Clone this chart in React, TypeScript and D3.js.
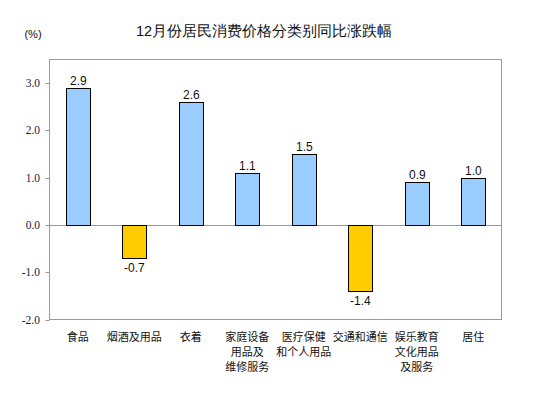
import { FC } from 'react'
import * as d3 from 'd3'

const categories = [
  ['食品'],
  ['烟酒及用品'],
  ['衣着'],
  ['家庭设备', '用品及', '维修服务'],
  ['医疗保健', '和个人用品'],
  ['交通和通信'],
  ['娱乐教育', '文化用品', '及服务'],
  ['居住'],
]
const values = [2.9, -0.7, 2.6, 1.1, 1.5, -1.4, 0.9, 1.0]
const yTicks = [3.0, 2.0, 1.0, 0.0, -1.0, -2.0]

// hyphen instead of unicode minus, like the source chart
const fmt = (v: number) => d3.format('.1f')(v).replace('−', '-')

const App: FC = () => {
  const width = 553
  const height = 398
  const left = 49.5
  const right = 501.5
  const top = 59.5
  const bottom = 319.5

  const x = d3.scaleBand<number>()
    .domain(d3.range(values.length))
    .range([left, right])
    .paddingInner(0.58)
    .paddingOuter(0.29)
  const y = d3.scaleLinear().domain([-2, 3.5]).range([bottom, top])
  const zero = Math.round(y(0)) + 0.5

  const sans = '"Liberation Sans", Arial, sans-serif'

  return (
    <svg width={width} height={height} style={{ position: 'absolute', left: 0, top: 0 }}>
      <rect width={width} height={height} fill="#fff" />
      <text x={264} y={36} textAnchor="middle" fontFamily={sans} fontSize={14.5} fill="#111">
        12月份居民消费价格分类别同比涨跌幅
      </text>
      <text x={33} y={38} textAnchor="middle" fontFamily={sans} fontSize={11} fill="#111">(%)</text>

      <rect x={left} y={top} width={right - left} height={bottom - top} fill="none" stroke="#999" />
      <line x1={left} x2={right} y1={zero} y2={zero} stroke="#999" />

      {yTicks.map(t => (
        <g key={t}>
          <line x1={left - 4} x2={left} y1={Math.round(y(t)) + 0.5} y2={Math.round(y(t)) + 0.5} stroke="#999" />
          <text x={40} y={y(t) + 4} textAnchor="end" fontFamily='"Liberation Serif", "Times New Roman", serif'
            fontSize={11.5} fill="#1a1a4a">
            {fmt(t)}
          </text>
        </g>
      ))}

      {values.map((v, i) => {
        const x0 = Math.round(x(i)!) + 0.5
        const y0 = Math.round(y(Math.max(v, 0))) + 0.5
        const y1 = Math.round(y(Math.min(v, 0))) + 0.5
        const cx = x0 + x.bandwidth() / 2
        return (
          <g key={i}>
            <rect x={x0} y={y0} width={Math.round(x.bandwidth())} height={y1 - y0}
              fill={v >= 0 ? '#99ccff' : '#ffcc00'} stroke="#000" strokeWidth={1} />
            <text x={cx} y={v >= 0 ? y0 - 4 : y1 + 13} textAnchor="middle" fontFamily={sans}
              fontSize={12} fill="#111">
              {fmt(v)}
            </text>
          </g>
        )
      })}

      {categories.map((lines, i) => (
        <text key={i} textAnchor="middle" fontFamily='"Noto Sans CJK SC", sans-serif' fontSize={11} fill="#111">
          {lines.map((l, j) => (
            <tspan key={j} x={x(i)! + x.bandwidth() / 2} y={341 + j * 15}>{l}</tspan>
          ))}
        </text>
      ))}
    </svg>
  )
}

export default App
